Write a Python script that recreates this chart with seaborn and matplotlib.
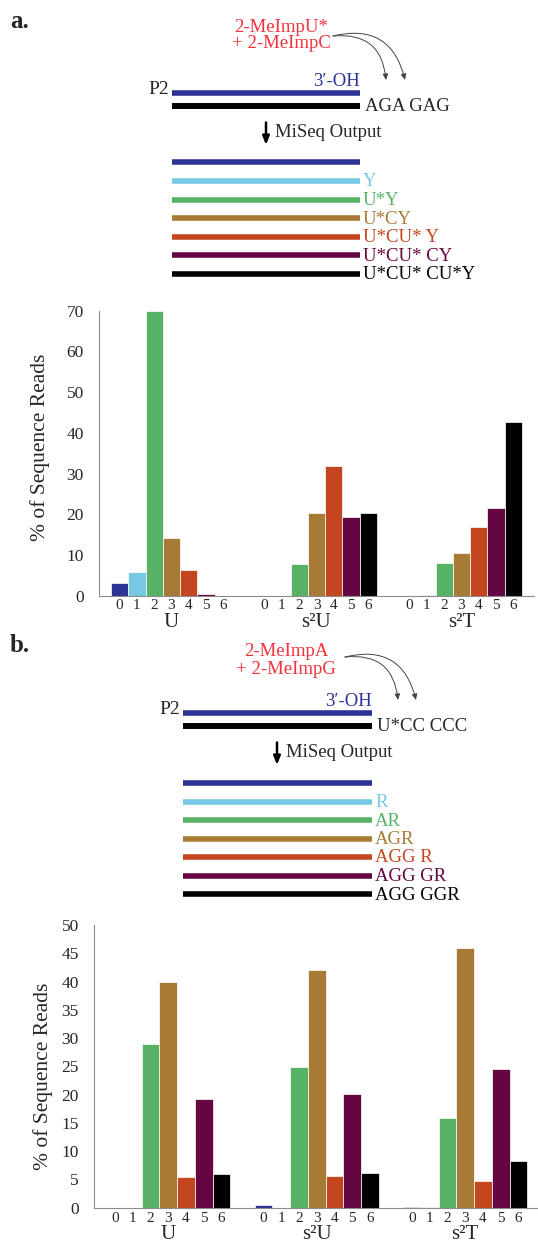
import numpy as np
import pandas as pd
import seaborn as sns
import matplotlib.pyplot as plt
from matplotlib.patches import FancyArrowPatch

# ---- data ----
groups = ["U", "s²U", "s²T"]
lengths = ["0", "1", "2", "3", "4", "5", "6"]
colors = ["#2B3394", "#76C8E4", "#57B266", "#A77A35", "#C3461E", "#650541", "#000000"]

# panel a: 2-MeImpU* + 2-MeImpC
a_U = [3.2, 6.0, 70.0, 14.2, 6.4, 0.4, 0.0]
a_s2U = [0.0, 0.1, 7.9, 20.3, 32.0, 19.4, 20.3]
a_s2T = [0.0, 0.2, 8.1, 10.5, 17.0, 21.6, 42.7]

# panel b: 2-MeImpA + 2-MeImpG
b_U = [0.0, 0.0, 28.9, 40.0, 5.4, 19.3, 5.9]
b_s2U = [0.5, 0.0, 24.9, 42.1, 5.6, 20.1, 6.2]
b_s2T = [0.2, 0.1, 15.9, 45.9, 4.8, 24.5, 8.2]

products_a = ["", "Y", "U*Y", "U*CY", "U*CU* Y", "U*CU* CY", "U*CU* CU*Y"]
products_b = ["", "R", "AR", "AGR", "AGG R", "AGG GR", "AGG GGR"]

sns.set_style("white")
plt.rcParams["font.family"] = ["Liberation Serif", "DejaVu Serif"]

W, H = 538, 1242
fig = plt.figure(figsize=(W / 100, H / 100), dpi=100)

# overlay in pixel coordinates for the schemes
ov = fig.add_axes([0, 0, 1, 1])
ov.set_xlim(0, W)
ov.set_ylim(H, 0)
ov.axis("off")

RED = "#F2323C"
FS = 13.5


def draw_scheme(tag, tag_y, x0, x1, y_top, red_y, red_x, reagents, template, arrow_start, arrow_ends,
                prod_y0, prod_dy, products, arrow_x):
    ov.text(10, tag_y, tag, fontsize=18, fontweight="bold", ha="left", va="center")
    ov.text(red_x, red_y[0], reagents[0], color=RED, fontsize=FS, ha="center", va="center")
    ov.text(red_x, red_y[1], reagents[1], color=RED, fontsize=FS, ha="center", va="center")
    for end in arrow_ends:
        ov.add_patch(FancyArrowPatch(arrow_start, end, connectionstyle="arc3,rad=-0.5",
                                     arrowstyle="-|>,head_length=3.5,head_width=1.6",
                                     color="#444444", lw=0.7, shrinkA=0, shrinkB=0))
    ov.plot([x0, x1], [y_top, y_top], color=colors[0], lw=4, solid_capstyle="butt")
    ov.plot([x0, x1], [y_top + 13, y_top + 13], color="black", lw=4.3, solid_capstyle="butt")
    ov.text(x0 - 3, y_top - 3, "P2", fontsize=14, ha="right", va="center")
    ov.text(x1, y_top - 11, "3′-OH", color=colors[0], fontsize=FS, ha="right", va="center")
    ov.text(x1 + 5, y_top + 14, template, fontsize=FS, ha="left", va="center")
    ov.annotate("", xy=(arrow_x, y_top + 55), xytext=(arrow_x, y_top + 27),
                arrowprops=dict(arrowstyle="-|>,head_length=0.5,head_width=0.2", color="black", lw=1.8))
    ov.text(arrow_x + 9, y_top + 40, "MiSeq Output", fontsize=FS, ha="left", va="center")
    for i, (c, lab) in enumerate(zip(colors, products)):
        y = prod_y0 + i * prod_dy
        ov.plot([x0, x1], [y, y], color=c, lw=4, solid_capstyle="butt")
        ov.text(x1 + 3, y + 1, lab, color=c, fontsize=FS, ha="left", va="center")


draw_scheme("a.", 21, 171.7, 360, 92.7, (27, 43), 281, ("2-MeImpU*", "+ 2-MeImpC"), "AGA GAG",
            (333, 36), [(386, 80), (405, 80)], 162.3, 18.6, products_a, 266)
draw_scheme("b.", 645, 183, 372, 712.7, (652, 670), 286, ("2-MeImpA", "+ 2-MeImpG"), "U*CC CCC",
            (345, 657), [(398, 700), (416, 700)], 783, 18.5, products_b, 277)


def draw_chart(rect, vals, ymax, ystep, ylab_xy, sub_off, grp_off):
    ax = fig.add_axes(rect)
    df = pd.DataFrame({
        "group": np.repeat(groups, len(lengths)),
        "length": lengths * len(groups),
        "reads": np.concatenate(vals),
    })
    sns.barplot(data=df, x="group", y="reads", hue="length", hue_order=lengths, palette=colors,
                width=0.835, gap=0, dodge=True, saturation=1, errorbar=None, legend=False,
                edgecolor="white", linewidth=0.5, ax=ax)
    ax.set_xlim(-0.5, 2.5)
    ax.set_ylim(0, ymax)
    ax.set_yticks(range(0, ymax + 1, ystep))
    ax.tick_params(axis="y", labelsize=12.5, length=5, width=0.8, color="#8C8C8C", pad=6)
    ax.set_xticks([-0.5, 0.5, 1.5, 2.5])
    ax.set_xticklabels([])
    ax.tick_params(axis="x", length=6, width=0.8, color="#8C8C8C")
    for s in ["top", "right"]:
        ax.spines[s].set_visible(False)
    for s in ["left", "bottom"]:
        ax.spines[s].set_color("#8C8C8C")
        ax.spines[s].set_linewidth(0.8)
    ax.set_xlabel("")
    ax.set_ylabel("% of Sequence Reads", fontsize=15.5, va="center")
    ax.yaxis.set_label_coords(*ylab_xy)
    for lab, cont in zip(lengths, ax.containers):
        for bar in cont:
            ax.annotate(lab, xy=(bar.get_x() + bar.get_width() / 2, 0), xytext=(0, sub_off),
                        textcoords="offset points", ha="center", va="center", fontsize=11)
    for i, g in enumerate(groups):
        ax.annotate(g, xy=(i, 0), xytext=(0, grp_off), textcoords="offset points",
                    ha="center", va="center", fontsize=15, annotation_clip=False)
    return ax


draw_chart([99 / W, (H - 596) / H, 435 / W, 285.3 / H], [a_U, a_s2U, a_s2T], 70, 10,
           ((40 - 99) / 435, (596 - 447) / 285.3), -7, -19)
draw_chart([94 / W, (H - 1207.7) / H, 445.5 / W, 282.7 / H], [b_U, b_s2U, b_s2T], 50, 5,
           ((43 - 94) / 445.5, (1207.7 - 1076) / 282.7), -7.5, -19.5)

fig.savefig("out.png", dpi=100)
